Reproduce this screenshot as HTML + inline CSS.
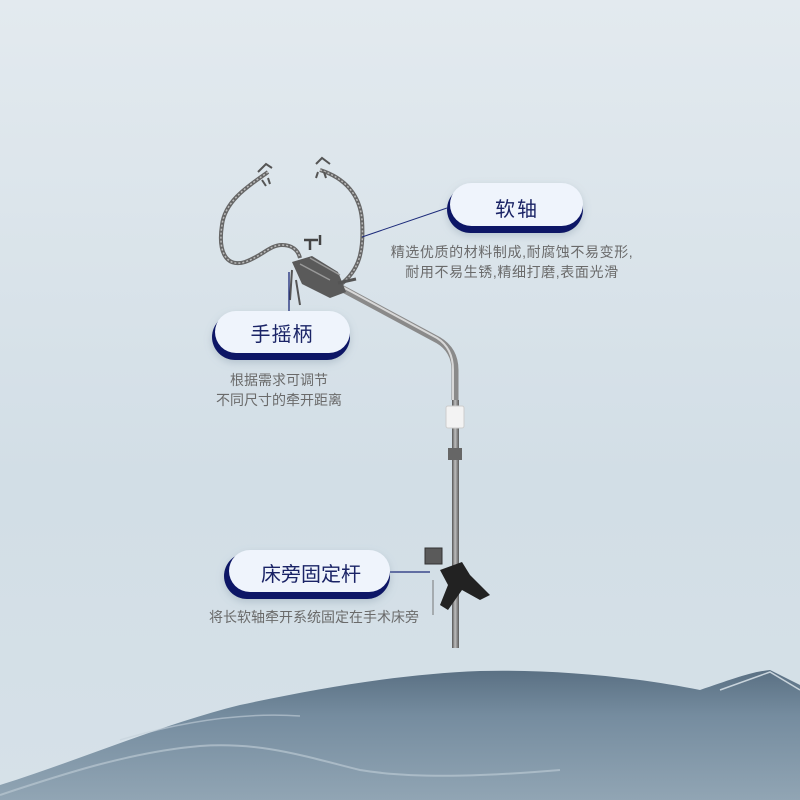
<!DOCTYPE html>
<html><head><meta charset="utf-8"><style>
html,body{margin:0;padding:0;width:800px;height:800px;overflow:hidden}
svg{display:block}
text{font-family:"Liberation Sans","Noto Sans CJK SC",sans-serif}
</style></head><body>
<svg width="800" height="800" viewBox="0 0 800 800" xmlns="http://www.w3.org/2000/svg">
<defs>
<linearGradient id="bg" x1="0" y1="0" x2="0" y2="1">
<stop offset="0" stop-color="#e3eaef"/><stop offset="0.6" stop-color="#d2dee6"/><stop offset="1" stop-color="#d6e1e8"/>
</linearGradient>
<linearGradient id="mt" x1="0" y1="0" x2="0" y2="1">
<stop offset="0" stop-color="#5a7083"/><stop offset="0.35" stop-color="#758c9f"/><stop offset="1" stop-color="#91a5b4"/>
</linearGradient>
<linearGradient id="pole" x1="0" y1="0" x2="1" y2="0">
<stop offset="0" stop-color="#555"/><stop offset="0.45" stop-color="#bdbdbd"/><stop offset="1" stop-color="#5a5a5a"/>
</linearGradient>
<filter id="sh" x="-20%" y="-30%" width="140%" height="170%"><feDropShadow dx="0" dy="3" stdDeviation="4" flood-color="#7a8ea0" flood-opacity="0.35"/></filter>
</defs>
<rect width="800" height="800" fill="url(#bg)"/>
<!-- mountain -->
<path d="M0 800 L0 785 C80 760 160 725 240 705 C320 688 400 674 480 671 C560 669 640 678 700 690 C730 680 750 672 770 670 L800 685 L800 800 Z" fill="url(#mt)"/>
<path d="M0 795 C60 775 130 752 200 746 C260 742 300 755 360 770 C420 780 500 775 560 770" stroke="#b9c7d2" stroke-width="2" fill="none" opacity="0.7"/>
<path d="M120 740 C180 722 240 712 300 716" stroke="#c4d0da" stroke-width="1.5" fill="none" opacity="0.6"/>
<path d="M720 690 L770 672 L800 690" stroke="#c9d4dc" stroke-width="1.5" fill="none"/>
<!-- cables -->
<path d="M268 172 C250 185 225 200 222 225 C218 250 225 268 245 262 C262 256 270 245 282 245 C292 245 298 250 300 258" stroke="#666" stroke-width="4" fill="none"/>
<path d="M268 172 C250 185 225 200 222 225 C218 250 225 268 245 262 C262 256 270 245 282 245 C292 245 298 250 300 258" stroke="#bbb" stroke-width="1.5" fill="none" stroke-dasharray="2 2"/>
<path d="M320 170 C345 178 360 195 362 220 C364 250 360 270 340 285" stroke="#666" stroke-width="4" fill="none"/>
<path d="M320 170 C345 178 360 195 362 220 C364 250 360 270 340 285" stroke="#bbb" stroke-width="1.5" fill="none" stroke-dasharray="2 2"/>
<path d="M258 172 l8 -8 l6 4 M262 180 l4 6 M268 178 l2 6" stroke="#555" stroke-width="2" fill="none"/>
<path d="M316 164 l6 -6 l8 6 M318 172 l-2 6 M324 172 l2 6" stroke="#555" stroke-width="2" fill="none"/>
<!-- arm -->
<path d="M315 274 L438 340 Q455 350 455 370 L455 400" stroke="#8a8a8a" stroke-width="7" fill="none"/>
<path d="M315 272 L437 338 Q453 348 453 370 L453 400" stroke="#d8d8d8" stroke-width="2" fill="none"/>
<rect x="452" y="400" width="7" height="248" fill="url(#pole)"/>
<rect x="446" y="406" width="18" height="22" rx="2" fill="#f3f3f3" stroke="#ccc"/>
<rect x="448" y="448" width="14" height="12" fill="#666"/>
<!-- clamp head -->
<path d="M292 262 L312 256 L338 272 L346 292 L330 298 L302 284 Z" fill="#5a5a5a"/>
<path d="M300 264 L330 280 M310 258 L340 275" stroke="#999" stroke-width="1.5"/>
<path d="M310 250 L310 240 M304 240 h14 M320 245 l0 -10" stroke="#444" stroke-width="2.5"/>
<path d="M296 280 L300 305 M292 270 L290 300" stroke="#555" stroke-width="2"/>
<path d="M338 283 l18 -4" stroke="#555" stroke-width="3"/>
<!-- bottom clamp -->
<rect x="425" y="548" width="17" height="16" fill="#5a5a5a" stroke="#333"/>
<path d="M440 570 L462 562 L470 575 L490 595 L480 600 L462 590 L448 610 L440 605 L448 585 Z" fill="#222"/>
<path d="M433 580 L433 615" stroke="#777" stroke-width="1"/>
<!-- connectors -->
<path d="M447 208 L362 237" stroke="#1c2a7a" stroke-width="1"/>
<path d="M289 272 L289 311" stroke="#1c2a7a" stroke-width="1.3"/>
<path d="M390 572 L430 572" stroke="#1c2a7a" stroke-width="1.3"/>
<!-- pills -->
<g filter="url(#sh)">
<rect x="447" y="186" width="136" height="47" rx="23.5" fill="#0e1766"/>
<rect x="450" y="183" width="133" height="43" rx="21.5" fill="#eff4fc"/>
<rect x="212" y="314" width="138" height="46" rx="23" fill="#0e1766"/>
<rect x="215" y="311" width="135" height="42" rx="21" fill="#eff4fc"/>
<rect x="224" y="553" width="166" height="46" rx="23" fill="#0e1766"/>
<rect x="229" y="550" width="161" height="42" rx="21" fill="#eff4fc"/>
</g>
<text x="517" y="216" font-size="20" fill="#1a2366" text-anchor="middle" letter-spacing="2">软轴</text>
<text x="282" y="341" font-size="20" fill="#1a2366" text-anchor="middle" letter-spacing="1">手摇柄</text>
<text x="311" y="581" font-size="20" fill="#1a2366" text-anchor="middle">床旁固定杆</text>
<g font-size="14" fill="#6a6a6a" text-anchor="middle">
<text x="512" y="257" letter-spacing="0.6">精选优质的材料制成,耐腐蚀不易变形,</text>
<text x="512" y="277" letter-spacing="0.6">耐用不易生锈,精细打磨,表面光滑</text>
<text x="279" y="385">根据需求可调节</text>
<text x="279" y="405">不同尺寸的牵开距离</text>
<text x="314" y="622">将长软轴牵开系统固定在手术床旁</text>
</g>
</svg>
</body></html>
